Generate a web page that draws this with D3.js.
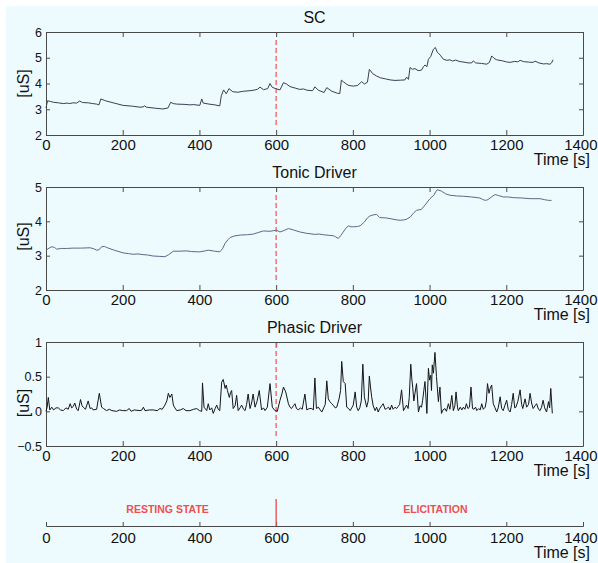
<!DOCTYPE html>
<html lang="en">
<head>
<meta charset="utf-8">
<script src="https://d3js.org/d3.v7.min.js"></script>
<title>SC / Tonic / Phasic</title>
<style>
  body { margin: 0; background: #fff; }
  svg { display: block; }
  text { font-family: "Liberation Sans", Arial, sans-serif; fill: #111; }
</style>
</head>
<body>
<div id="chart"></div>
<script>
// ---- data ----
const xTicks = [0, 200, 400, 600, 800, 1000, 1200, 1400];
const markerTime = 600;
const phaseLabels = ["RESTING STATE", "ELICITATION"];
const phaseCenters = [317, 1015];

const scTime = [0,4,12,20,32,45,55,62,70,80,88,95,110,122,132,138,143,155,175,201,225,245,253,257,262,285,305,318,325,332,341,360,375,385,401,406,410,425,440,453,457,463,470,477,487,500,515,532,545,552,558,567,578,584,590,599,610,619,627,636,650,662,671,680,695,701,710,725,732,745,760,766,770,775,783,790,801,812,823,830,838,843,852,862,872,885,897,910,925,936,940,945,949,955,962,970,979,984,988,993,997,1003,1010,1015,1020,1028,1036,1045,1053,1060,1068,1079,1090,1100,1110,1114,1120,1135,1149,1156,1162,1168,1175,1190,1200,1210,1222,1230,1236,1245,1258,1270,1275,1285,1297,1305,1314,1318,1322];
const scValue = [3.05,3.33,3.30,3.27,3.25,3.22,3.24,3.22,3.25,3.24,3.32,3.26,3.25,3.22,3.20,3.17,3.40,3.33,3.25,3.15,3.12,3.08,3.09,3.13,3.08,3.04,3.01,3.05,3.27,3.22,3.20,3.19,3.17,3.18,3.15,3.40,3.24,3.20,3.17,3.13,3.52,3.75,3.60,3.80,3.68,3.66,3.70,3.72,3.75,3.78,3.86,3.76,3.80,4.00,3.85,3.80,3.75,4.03,3.98,3.88,3.82,3.77,3.79,3.74,3.72,3.87,3.74,3.65,3.84,3.70,3.62,3.61,4.13,4.07,3.98,3.92,3.90,3.92,4.07,3.98,4.05,4.55,4.38,4.29,4.22,4.18,4.14,4.12,4.13,4.14,4.25,4.16,4.62,4.55,4.58,4.50,4.52,4.65,4.72,4.65,4.94,5.05,5.33,5.40,5.22,5.10,4.94,4.90,4.92,4.87,4.91,4.85,4.83,4.80,4.80,4.88,4.80,4.78,4.75,4.82,5.07,4.98,4.92,4.88,4.84,4.82,4.86,4.84,4.90,4.85,4.83,4.82,4.87,4.80,4.76,4.77,4.75,4.80,4.92];

const tonicTime = [0,8,15,22,28,40,54,70,90,115,125,132,138,145,152,158,175,201,215,227,240,253,265,279,295,310,320,332,349,365,380,401,415,423,440,453,460,467,475,480,490,506,525,541,555,567,584,594,601,610,620,632,645,662,680,701,712,723,740,749,755,762,768,775,782,788,795,801,812,819,830,838,845,854,862,870,885,897,910,923,932,940,950,958,966,979,990,1001,1011,1016,1020,1031,1042,1053,1070,1088,1110,1131,1138,1145,1152,1158,1165,1171,1180,1192,1205,1218,1240,1262,1288,1300,1310,1318];
const tonicValue = [3.16,3.22,3.26,3.24,3.19,3.21,3.21,3.22,3.22,3.23,3.20,3.16,3.17,3.26,3.27,3.24,3.17,3.08,3.06,3.04,3.05,3.03,3.02,2.99,2.98,2.97,3.03,3.13,3.13,3.14,3.12,3.11,3.14,3.16,3.13,3.11,3.20,3.36,3.47,3.53,3.57,3.60,3.61,3.63,3.68,3.72,3.71,3.73,3.74,3.69,3.73,3.79,3.75,3.69,3.65,3.62,3.63,3.61,3.59,3.58,3.55,3.50,3.58,3.69,3.80,3.87,3.84,3.84,3.85,3.87,3.98,4.10,4.16,4.19,4.20,4.11,4.10,4.08,4.05,4.03,4.04,4.06,4.13,4.24,4.32,4.35,4.50,4.66,4.76,4.86,4.92,4.88,4.80,4.76,4.74,4.73,4.71,4.68,4.64,4.61,4.63,4.68,4.74,4.78,4.75,4.71,4.71,4.69,4.68,4.66,4.66,4.63,4.61,4.61];

const phasicTime = [0,3,6,10,15,20,26,32,38,45,52,58,63,67,71,75,80,84,90,94,97,103,110,115,119,123,132,139,145,150,158,165,172,184,192,200,210,217,222,230,245,250,254,258,270,280,290,297,303,310,315,319,323,328,332,336,341,350,358,365,375,385,393,400,406,408,412,416,419,423,427,432,436,441,445,449,453,458,462,467,470,473,478,481,484,488,493,497,501,506,510,515,519,523,527,532,536,540,545,550,556,562,567,571,577,584,590,597,603,610,615,619,625,632,636,640,645,649,653,658,663,668,675,680,686,693,697,701,705,710,715,719,724,728,732,736,740,745,750,754,758,764,768,771,775,780,784,789,793,797,801,806,810,814,818,822,826,830,836,840,843,846,849,853,858,862,866,870,875,879,884,888,893,897,901,905,910,914,918,922,927,932,936,940,944,947,951,954,956,959,962,966,971,975,979,982,985,988,993,997,1000,1003,1005,1007,1010,1014,1018,1023,1027,1031,1035,1040,1044,1049,1053,1058,1062,1066,1069,1073,1075,1080,1084,1088,1092,1096,1100,1104,1108,1112,1116,1120,1123,1128,1132,1136,1140,1145,1148,1151,1155,1158,1162,1166,1170,1175,1179,1184,1188,1192,1196,1201,1205,1210,1214,1218,1222,1225,1230,1236,1240,1243,1249,1253,1258,1262,1266,1270,1275,1279,1284,1288,1292,1296,1300,1305,1310,1313,1316,1320];
const phasicValue = [0.00,0.06,0.20,0.02,0.06,0.02,0.05,0.05,0.02,0.01,0.05,0.03,0.11,0.05,0.07,0.12,0.03,0.01,0.17,0.08,0.06,0.03,0.15,0.04,0.05,0.02,0.03,0.26,0.06,0.04,0.01,0.03,0.01,0.00,0.02,0.01,0.01,0.04,0.00,0.02,0.01,0.02,0.06,0.01,0.02,0.02,0.01,0.04,0.03,0.09,0.15,0.26,0.20,0.25,0.09,0.05,0.01,0.02,0.04,0.01,0.01,0.03,0.04,0.01,0.00,0.41,0.06,0.03,0.01,0.11,0.02,0.05,-0.03,0.04,0.09,0.03,0.01,0.42,0.46,0.33,0.38,0.30,0.20,0.27,0.30,0.04,0.08,0.23,0.01,0.05,0.09,0.03,0.01,0.10,0.25,0.04,0.12,0.25,0.06,0.14,0.30,0.02,0.05,0.01,0.06,0.40,0.06,0.01,0.00,0.16,0.25,0.35,0.28,0.11,0.06,0.04,0.08,0.11,0.04,0.02,0.05,0.03,0.25,0.02,0.04,0.04,0.02,0.48,0.04,0.06,0.02,-0.01,0.05,0.10,0.44,0.18,0.14,0.11,0.08,0.05,0.06,0.18,0.30,0.72,0.43,0.40,0.06,0.04,0.01,0.05,0.09,0.28,0.06,0.01,0.05,0.15,0.68,0.21,0.06,0.15,0.51,0.35,0.21,0.08,0.01,0.06,-0.01,0.04,0.08,0.11,0.03,0.04,0.06,0.02,0.09,0.03,0.06,0.04,0.07,0.10,0.31,0.01,0.05,0.09,0.04,0.20,0.68,0.45,0.35,0.15,0.26,0.40,-0.01,0.08,0.06,0.16,0.30,0.43,-0.03,0.62,0.45,0.52,0.30,0.67,0.55,0.85,0.50,0.14,0.35,-0.03,0.02,0.04,0.00,0.11,0.03,0.23,0.01,0.08,0.28,0.05,0.01,0.06,0.02,0.06,0.03,0.11,0.04,0.06,0.35,0.04,0.03,0.06,0.01,0.04,0.02,0.11,0.03,0.06,0.15,0.40,0.26,0.33,0.38,0.11,0.06,-0.01,0.05,0.21,0.04,0.01,0.08,0.16,0.03,-0.01,0.10,0.26,0.05,0.06,0.14,0.31,0.10,0.04,0.18,0.06,0.10,0.26,0.12,0.04,0.08,0.11,0.03,0.01,0.06,0.16,0.05,-0.01,0.14,0.05,0.33,-0.03];

const panels = [
  { title: "SC", t: scTime, v: scValue, domain: [2, 6], ticks: [2, 3, 4, 5, 6], top: 32, bottom: 135, color: "#3c3d52", dash: [8, 7], labelShift: 0 },
  { title: "Tonic Driver", t: tonicTime, v: tonicValue, domain: [2, 5], ticks: [2, 3, 4, 5], top: 187, bottom: 290, color: "#5f6886", dash: [8, 7], labelShift: -2 },
  { title: "Phasic Driver", t: phasicTime, v: phasicValue, domain: [-0.5, 1], ticks: [-0.5, 0, 0.5, 1], top: 342, bottom: 446, color: "#151515", dash: [1, 8], labelShift: 9 }
];

const W = 598, H = 563;
const left = 46, right = 583;

const svg = d3.select("#chart").append("svg")
  .attr("width", W).attr("height", H);

svg.append("rect")
  .attr("x", 6).attr("y", 6)
  .attr("width", W - 6).attr("height", H - 6)
  .attr("fill", "#eefbfe");

const x = d3.scaleLinear().domain([0, 1400]).range([left, right]);

function styleAxis(g, size) {
  g.attr("font-family", null).attr("font-size", null);
  g.selectAll("path, line").attr("stroke", "#4a4a4a");
  g.selectAll("text").attr("font-size", size).attr("fill", "#111");
}

// keep the last x label inside the picture
function pullLast(g) {
  g.selectAll(".tick").filter(d => d === 1400).select("text")
    .attr("text-anchor", "end").attr("x", 597 - right);
}

panels.forEach(p => {
  const y = d3.scaleLinear().domain(p.domain).range([p.bottom, p.top]);
  const g = svg.append("g");

  // box with inward ticks (matlab style)
  g.append("g").attr("transform", `translate(0,${p.bottom})`)
    .call(d3.axisBottom(x).tickValues(xTicks).tickFormat(d3.format("d"))
      .tickSizeInner(-5).tickSizeOuter(0).tickPadding(4))
    .call(a => styleAxis(a, 15))
    .call(pullLast);
  g.append("g").attr("transform", `translate(0,${p.top})`)
    .call(d3.axisTop(x).tickValues(xTicks).tickSizeInner(-5).tickSizeOuter(0).tickFormat(""))
    .call(a => styleAxis(a, 15));
  g.append("g").attr("transform", `translate(${left},0)`)
    .call(d3.axisLeft(y).tickValues(p.ticks).tickSizeInner(-4).tickSizeOuter(0).tickPadding(4)
      .tickFormat(d => d < 0 ? "\u2212" + Math.abs(d) : d))
    .call(a => styleAxis(a, 12.5));
  g.append("g").attr("transform", `translate(${right},0)`)
    .call(d3.axisRight(y).tickValues(p.ticks).tickSizeInner(-4).tickSizeOuter(0).tickFormat(""))
    .call(a => styleAxis(a, 12.5));

  // red marker
  g.append("line")
    .attr("x1", x(markerTime)).attr("x2", x(markerTime))
    .attr("y1", p.top + p.dash[0]).attr("y2", p.bottom - p.dash[1])
    .attr("stroke", "#f05a5a").attr("stroke-width", 1.3)
    .attr("stroke-dasharray", "5,3");

  const pts = p.t.map((t, i) => [t, p.v[i]]);
  g.append("path")
    .datum(pts)
    .attr("fill", "none")
    .attr("stroke", p.color)
    .attr("stroke-width", 1)
    .attr("d", d3.line().x(d => x(d[0])).y(d => y(d[1])));

  g.append("text")
    .attr("x", (left + right) / 2).attr("y", p.top - 9)
    .attr("text-anchor", "middle").attr("font-size", 16)
    .text(p.title);

  g.append("text")
    .attr("transform", `translate(29,${(p.top + p.bottom) / 2 + p.labelShift}) rotate(-90)`)
    .attr("text-anchor", "middle").attr("font-size", 16)
    .text("[uS]");

  g.append("text")
    .attr("x", 590).attr("y", p.bottom + 30)
    .attr("text-anchor", "end").attr("font-size", 16)
    .text("Time [s]");
});

// timeline
const lineY = 526;
const tl = svg.append("g");
tl.append("g").attr("transform", `translate(0,${lineY})`)
  .call(d3.axisBottom(x).tickValues(xTicks).tickFormat(d3.format("d"))
    .tickSizeInner(-4).tickSizeOuter(-4).tickPadding(6))
  .call(a => styleAxis(a, 15))
  .call(pullLast);
tl.append("line")
  .attr("x1", x(markerTime)).attr("x2", x(markerTime))
  .attr("y1", lineY - 27).attr("y2", lineY)
  .attr("stroke", "#e84848").attr("stroke-width", 1.3);
tl.selectAll("text.phase")
  .data(phaseLabels)
  .enter().append("text")
  .attr("class", "phase")
  .attr("x", (d, i) => x(phaseCenters[i]))
  .attr("y", lineY - 13)
  .attr("text-anchor", "middle")
  .attr("font-family", "'Open Sans', sans-serif")
  .attr("font-weight", "bold")
  .attr("font-size", 10.5)
  .style("fill", "#ee4f4f")
  .text(d => d);
tl.append("text")
  .attr("x", 590).attr("y", lineY + 32)
  .attr("text-anchor", "end").attr("font-size", 16)
  .text("Time [s]");
</script>
</body>
</html>
